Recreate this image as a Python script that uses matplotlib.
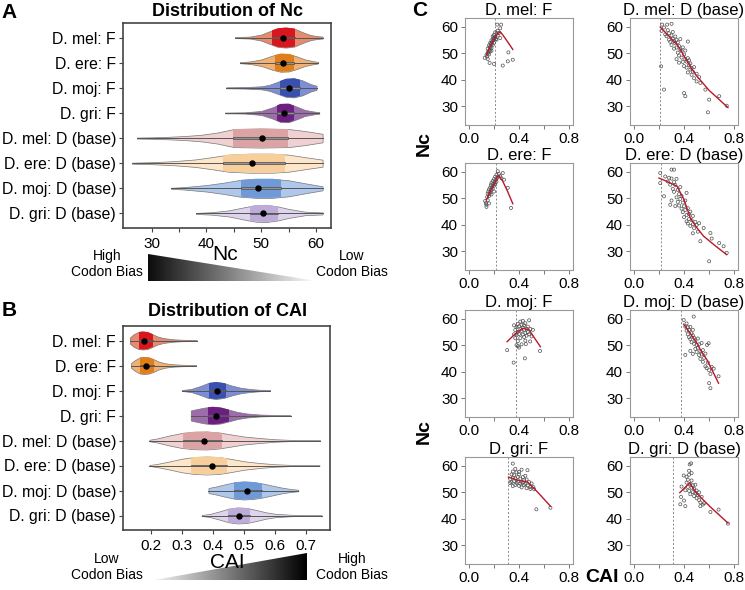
import numpy as np
import matplotlib
matplotlib.use("Agg")
import matplotlib.pyplot as plt
from matplotlib.patches import Rectangle, Polygon

plt.rcParams['font.family'] = ['Liberation Sans', 'DejaVu Sans']

W, H = 745, 590

groups = ["D. mel: F", "D. ere: F", "D. moj: F", "D. gri: F",
          "D. mel: D (base)", "D. ere: D (base)", "D. moj: D (base)", "D. gri: D (base)"]
outer_cols = ['#E68A70', '#F2B072', '#7E8ED6', '#9C6CAC',
              '#F0D0D0', '#FDE6C9', '#B0C7EC', '#DED5EC']
inner_cols = ['#D8161D', '#E07F1A', '#3A50B0', '#6C1F80',
              '#DBA3A3', '#F7CF9C', '#7099D8', '#BDACD8']

# --- Nc violins: outline read as (x, half width), plus quartiles ---
nc_xs = [
    [45.2, 48, 50, 51.5, 53, 54.5, 56, 57.5, 59, 60.5, 61.2],
    [46.1, 48, 50, 52, 53.5, 55, 56.5, 58, 59.5, 60.4],
    [43.6, 47, 50, 51.5, 53, 54.5, 56, 57.5, 59, 60.1],
    [43.4, 47, 50, 52, 53.5, 55, 56.5, 58, 59.5, 60.6],
    [27.3, 30, 33, 36, 39, 42, 45, 50, 55, 58, 61.2],
    [26.4, 30, 34, 38, 41, 44, 48, 52, 55, 58, 61.2],
    [33.5, 36, 40, 43, 46, 49, 52, 55, 58, 61.2],
    [38.1, 41, 44, 47, 49, 51, 53, 55, 58, 61.2],
]
nc_ws = [
    [0.02, 0.04, 0.12, 0.25, 0.37, 0.40, 0.36, 0.22, 0.10, 0.05, 0.04],
    [0.02, 0.05, 0.13, 0.28, 0.36, 0.35, 0.25, 0.13, 0.06, 0.03],
    [0.02, 0.03, 0.06, 0.12, 0.24, 0.36, 0.38, 0.30, 0.15, 0.08],
    [0.015, 0.025, 0.08, 0.22, 0.36, 0.37, 0.25, 0.12, 0.06, 0.03],
    [0.02, 0.03, 0.05, 0.08, 0.13, 0.22, 0.36, 0.38, 0.36, 0.28, 0.17],
    [0.02, 0.04, 0.08, 0.15, 0.24, 0.34, 0.38, 0.38, 0.34, 0.24, 0.14],
    [0.02, 0.05, 0.13, 0.22, 0.33, 0.38, 0.38, 0.32, 0.20, 0.08],
    [0.02, 0.05, 0.12, 0.25, 0.33, 0.34, 0.28, 0.18, 0.07, 0.04],
]
nc_q1 = [51.9, 52.5, 53.4, 52.8, 44.9, 43.1, 46.3, 48.0]
nc_med = [53.9, 53.9, 55.0, 54.1, 50.1, 48.4, 49.4, 50.4]
nc_q3 = [56.2, 55.9, 57.1, 55.9, 54.8, 54.3, 53.7, 53.0]

# --- CAI violins ---
cai_xs = [
    [0.133, 0.145, 0.16, 0.175, 0.19, 0.205, 0.22, 0.24, 0.27, 0.30, 0.348],
    [0.137, 0.15, 0.165, 0.18, 0.195, 0.21, 0.225, 0.245, 0.27, 0.30, 0.346],
    [0.30, 0.33, 0.36, 0.385, 0.41, 0.435, 0.46, 0.49, 0.52, 0.55, 0.584],
    [0.329, 0.35, 0.375, 0.40, 0.425, 0.45, 0.48, 0.51, 0.55, 0.60, 0.65],
    [0.196, 0.22, 0.26, 0.30, 0.34, 0.38, 0.42, 0.46, 0.50, 0.55, 0.60, 0.65, 0.745],
    [0.196, 0.22, 0.26, 0.30, 0.34, 0.38, 0.42, 0.46, 0.50, 0.55, 0.60, 0.65, 0.743],
    [0.386, 0.41, 0.44, 0.47, 0.50, 0.53, 0.56, 0.59, 0.62, 0.65, 0.675],
    [0.364, 0.39, 0.42, 0.45, 0.48, 0.51, 0.54, 0.57, 0.60, 0.65, 0.70, 0.75],
]
cai_ws = [
    [0.12, 0.25, 0.34, 0.36, 0.34, 0.26, 0.17, 0.10, 0.05, 0.03, 0.02],
    [0.10, 0.22, 0.32, 0.34, 0.32, 0.25, 0.16, 0.09, 0.05, 0.03, 0.02],
    [0.02, 0.06, 0.18, 0.30, 0.34, 0.30, 0.20, 0.11, 0.06, 0.03, 0.02],
    [0.20, 0.26, 0.32, 0.35, 0.32, 0.24, 0.14, 0.08, 0.04, 0.02, 0.01],
    [0.03, 0.08, 0.20, 0.30, 0.35, 0.36, 0.32, 0.24, 0.16, 0.10, 0.05, 0.025, 0.015],
    [0.02, 0.06, 0.16, 0.27, 0.34, 0.36, 0.34, 0.26, 0.17, 0.10, 0.05, 0.025, 0.015],
    [0.10, 0.16, 0.25, 0.33, 0.36, 0.34, 0.28, 0.20, 0.12, 0.06, 0.03],
    [0.02, 0.06, 0.16, 0.27, 0.32, 0.30, 0.22, 0.13, 0.07, 0.03, 0.015, 0.01],
]
cai_q1 = [0.164, 0.166, 0.389, 0.386, 0.303, 0.329, 0.468, 0.450]
cai_med = [0.180, 0.184, 0.412, 0.409, 0.372, 0.396, 0.511, 0.484]
cai_q3 = [0.206, 0.211, 0.442, 0.453, 0.428, 0.445, 0.557, 0.520]

# --- panel C: CAI vs Nc per gene ---
mel_f_pts = [(0.14, 49.5), (0.145, 48.8), (0.15, 50.5), (0.15, 51.8), (0.155, 50.2), (0.16, 51.0),
             (0.16, 53.0), (0.165, 52.4), (0.17, 52.2), (0.17, 54.0), (0.17, 50.8), (0.175, 53.6),
             (0.18, 53.5), (0.18, 55.0), (0.18, 52.0), (0.185, 54.2), (0.19, 54.8), (0.19, 56.5),
             (0.19, 53.2), (0.195, 55.8), (0.2, 55.5), (0.2, 57.0), (0.2, 54.0), (0.205, 56.2),
             (0.21, 56.0), (0.21, 58.0), (0.215, 55.4), (0.22, 55.2), (0.22, 57.5), (0.23, 56.8),
             (0.24, 57.8), (0.25, 59.5), (0.226, 60.9), (0.257, 60.9), (0.165, 46.4), (0.27, 45.4),
             (0.31, 47.0), (0.35, 47.6), (0.315, 50.4), (0.126, 48.3), (0.15, 47.9), (0.25, 55.8),
             (0.2, 46.0), (0.23, 58.6), (0.16, 49.6), (0.18, 51.0)]
mel_f_fit = [(0.14, 49.5), (0.17, 52.5), (0.2, 55.5), (0.225, 57.2), (0.25, 58.2),
             (0.27, 57.0), (0.3, 55.0), (0.35, 51.5)]

mel_d_pts = [(0.22, 58.5), (0.24, 59.8), (0.25, 57.2), (0.26, 56.5), (0.27, 58.8), (0.28, 55.2),
             (0.28, 57.6), (0.29, 54.4), (0.3, 56.8), (0.3, 53.2), (0.31, 55.6), (0.31, 58.1),
             (0.32, 54.6), (0.32, 51.8), (0.33, 56.4), (0.33, 53.8), (0.34, 52.2), (0.34, 55.1),
             (0.35, 50.3), (0.35, 54.2), (0.36, 52.8), (0.36, 49.2), (0.37, 51.5), (0.37, 55.4),
             (0.38, 48.4), (0.38, 50.9), (0.39, 46.8), (0.39, 52.3), (0.4, 49.6), (0.4, 45.2),
             (0.41, 47.9), (0.41, 51.1), (0.42, 44.6), (0.42, 46.9), (0.43, 48.2), (0.43, 42.8),
             (0.44, 45.6), (0.44, 47.4), (0.45, 43.9), (0.45, 46.2), (0.46, 41.9), (0.46, 44.5),
             (0.47, 43.1), (0.48, 40.6), (0.48, 44.8), (0.5, 42.3), (0.5, 39.4), (0.52, 41.0),
             (0.217, 45.1), (0.24, 36.3), (0.4, 35.0), (0.41, 33.8), (0.6, 32.5), (0.59, 27.7),
             (0.68, 33.8), (0.74, 30.2), (0.57, 36.3), (0.53, 38.8), (0.225, 60.9), (0.265, 60.9),
             (0.3, 61.2), (0.43, 54.5), (0.36, 46.5), (0.34, 47.8)]
mel_d_fit = [(0.21, 60.0), (0.3, 55.5), (0.35, 53.0), (0.4, 49.0), (0.45, 45.0),
             (0.5, 41.5), (0.6, 36.0), (0.75, 29.5)]

ere_f_pts = [(0.13, 49.0), (0.135, 48.2), (0.14, 47.6), (0.145, 50.5), (0.15, 49.3), (0.15, 51.8),
             (0.155, 52.6), (0.16, 50.9), (0.16, 53.4), (0.165, 51.7), (0.17, 54.1), (0.17, 52.3),
             (0.175, 55.0), (0.175, 53.2), (0.18, 51.5), (0.18, 55.8), (0.185, 54.3), (0.19, 56.6),
             (0.19, 53.7), (0.195, 55.4), (0.2, 57.3), (0.2, 54.8), (0.205, 56.1), (0.21, 58.2),
             (0.21, 55.3), (0.215, 57.0), (0.22, 56.3), (0.22, 58.9), (0.225, 57.7), (0.23, 60.3),
             (0.24, 59.2), (0.25, 58.4), (0.27, 59.6), (0.28, 57.1), (0.31, 54.0), (0.336, 46.4),
             (0.14, 46.8), (0.16, 48.1), (0.2, 52.6), (0.26, 57.6)]
ere_f_fit = [(0.14, 49.5), (0.18, 53.5), (0.21, 56.2), (0.236, 58.8), (0.27, 56.5),
             (0.31, 52.5), (0.35, 48.0)]

ere_d_pts = [(0.21, 55.8), (0.21, 59.6), (0.3, 60.9), (0.32, 60.9), (0.53, 33.8), (0.6, 26.2),
             (0.715, 31.9), (0.74, 29.4), (0.61, 36.9), (0.556, 38.8), (0.29, 47.6), (0.24, 50.8),
             (0.25, 58.3), (0.27, 56.4), (0.28, 57.8), (0.29, 55.2), (0.3, 57.5), (0.31, 53.6),
             (0.32, 56.2), (0.32, 52.5), (0.33, 55.1), (0.34, 57.4), (0.34, 50.4), (0.35, 53.2),
             (0.35, 48.7), (0.36, 51.6), (0.36, 47.3), (0.37, 49.8), (0.37, 54.3), (0.38, 46.1),
             (0.38, 50.9), (0.39, 44.8), (0.39, 48.4), (0.4, 47.0), (0.4, 42.9), (0.41, 45.6),
             (0.41, 49.2), (0.42, 43.7), (0.42, 41.3), (0.43, 46.3), (0.43, 40.5), (0.44, 44.1),
             (0.44, 42.2), (0.45, 39.6), (0.45, 45.0), (0.46, 41.8), (0.47, 40.2), (0.47, 43.4),
             (0.48, 38.7), (0.49, 41.1), (0.5, 39.9), (0.51, 37.4), (0.52, 40.6), (0.3, 49.2),
             (0.33, 47.1), (0.42, 52.1), (0.47, 36.8), (0.62, 34.8), (0.68, 33.1)]
ere_d_fit = [(0.2, 57.7), (0.26, 56.5), (0.344, 54.6), (0.4, 49.5), (0.45, 42.6),
             (0.5, 39.0), (0.556, 35.7), (0.65, 32.0), (0.74, 28.7)]

moj_f_pts = [(0.36, 54.2), (0.37, 55.8), (0.37, 52.7), (0.38, 56.9), (0.38, 53.9), (0.39, 58.1),
             (0.39, 55.1), (0.39, 51.6), (0.4, 57.2), (0.4, 54.3), (0.41, 56.1), (0.41, 59.0),
             (0.41, 52.8), (0.42, 55.5), (0.42, 57.8), (0.42, 50.4), (0.43, 54.1), (0.43, 56.8),
             (0.43, 59.3), (0.44, 55.9), (0.44, 53.2), (0.44, 57.6), (0.45, 54.7), (0.45, 58.4),
             (0.45, 51.8), (0.46, 56.3), (0.46, 53.7), (0.47, 57.1), (0.47, 55.0), (0.48, 59.5),
             (0.48, 54.2), (0.49, 56.2), (0.5, 53.4), (0.51, 55.9), (0.38, 50.1), (0.4, 49.2),
             (0.305, 48.2), (0.357, 43.5), (0.446, 45.1), (0.567, 47.9), (0.454, 50.5), (0.488, 51.5),
             (0.39, 49.7), (0.36, 57.6)]
moj_f_fit = [(0.305, 51.4), (0.35, 53.5), (0.39, 55.2), (0.43, 56.5), (0.48, 55.9),
             (0.52, 53.0), (0.57, 49.5)]

moj_d_pts = [(0.477, 60.9), (0.397, 59.6), (0.41, 46.4), (0.61, 33.8), (0.6, 35.7), (0.675, 38.3),
             (0.636, 41.2), (0.583, 50.2), (0.596, 50.8), (0.41, 57.1), (0.42, 55.6), (0.42, 58.3),
             (0.43, 54.2), (0.43, 56.9), (0.44, 53.1), (0.44, 55.8), (0.45, 57.0), (0.45, 52.4),
             (0.46, 54.6), (0.46, 51.2), (0.47, 53.8), (0.47, 55.9), (0.48, 50.6), (0.48, 52.9),
             (0.49, 48.7), (0.49, 51.8), (0.5, 50.2), (0.5, 47.5), (0.51, 52.6), (0.51, 49.1),
             (0.52, 46.3), (0.52, 50.4), (0.53, 47.8), (0.53, 44.9), (0.54, 46.6), (0.55, 43.8),
             (0.55, 48.2), (0.56, 45.3), (0.57, 42.1), (0.57, 46.9), (0.58, 41.4), (0.59, 43.5),
             (0.6, 40.6), (0.62, 41.9), (0.45, 47.9), (0.47, 46.8), (0.54, 50.9), (0.61, 39.2)]
moj_d_fit = [(0.397, 58.0), (0.45, 54.5), (0.503, 50.8), (0.54, 47.5), (0.583, 44.5),
             (0.63, 40.0), (0.675, 35.7)]

gri_f_pts = [(0.35, 60.9), (0.538, 43.6), (0.65, 44.2), (0.467, 58.4), (0.488, 52.0), (0.514, 52.0),
             (0.33, 55.1), (0.34, 56.8), (0.34, 53.9), (0.35, 55.6), (0.35, 57.9), (0.36, 54.2),
             (0.36, 56.5), (0.37, 52.8), (0.37, 55.3), (0.38, 57.6), (0.38, 53.6), (0.39, 55.9),
             (0.39, 54.1), (0.4, 52.5), (0.4, 56.8), (0.41, 53.3), (0.41, 55.2), (0.42, 54.0),
             (0.42, 51.9), (0.43, 53.7), (0.43, 55.8), (0.44, 52.8), (0.44, 54.6), (0.45, 53.2),
             (0.46, 51.6), (0.46, 54.9), (0.47, 52.6), (0.48, 53.9), (0.49, 51.3), (0.5, 53.4),
             (0.35, 52.4), (0.37, 58.9), (0.4, 57.8), (0.42, 58.6), (0.33, 53.5), (0.45, 56.3),
             (0.52, 51.2)]
gri_f_fit = [(0.315, 55.8), (0.39, 54.6), (0.467, 54.0), (0.546, 50.2), (0.65, 44.8)]

gri_d_pts = [(0.37, 45.5), (0.376, 48.3), (0.445, 60.6), (0.456, 61.0), (0.397, 56.4), (0.61, 42.6),
             (0.675, 43.5), (0.75, 38.2), (0.41, 50.8), (0.42, 53.7), (0.42, 55.9), (0.43, 52.1),
             (0.43, 54.8), (0.44, 50.6), (0.44, 56.7), (0.45, 53.2), (0.45, 49.3), (0.46, 51.8),
             (0.46, 54.5), (0.47, 50.1), (0.47, 52.7), (0.48, 48.6), (0.48, 51.4), (0.49, 49.9),
             (0.49, 52.9), (0.5, 47.8), (0.5, 50.7), (0.51, 48.9), (0.52, 47.1), (0.52, 50.0),
             (0.53, 46.2), (0.54, 48.3), (0.55, 45.4), (0.4, 46.9), (0.41, 44.8), (0.44, 58.2),
             (0.46, 57.3), (0.38, 52.2), (0.53, 44.8), (0.56, 45.9)]
gri_d_fit = [(0.366, 49.9), (0.445, 53.6), (0.49, 50.2), (0.55, 47.3), (0.61, 44.5), (0.75, 38.4)]

# CAI cut-off (dashed line) per species
cutoffs = [0.21, 0.215, 0.375, 0.315]


def px(x, y):
    return x / W, 1 - y / H


def ax_px(fig, x0, y0, x1, y1):
    return fig.add_axes([x0 / W, 1 - y1 / H, (x1 - x0) / W, (y1 - y0) / H])


def draw_violin(ax, pos, xs, ws, q1, med, q3, c_out, c_in):
    xs = np.array(xs)
    ws = np.array(ws)
    ax.fill_between(xs, pos - ws, pos + ws, facecolor=c_out, edgecolor='#777777', lw=0.5, zorder=2)
    band = ax.fill_between(xs, pos - ws, pos + ws, facecolor=c_in, lw=0, zorder=3)
    band.set_clip_path(Rectangle((q1, pos - 0.5), q3 - q1, 1.0, transform=ax.transData))
    ax.plot([xs[0], xs[-1]], [pos, pos], color='#555555', lw=0.7, zorder=4)
    ax.add_patch(Rectangle((q1, pos - 0.035), q3 - q1, 0.07, facecolor=(1, 1, 1, 0.35),
                           edgecolor='#555555', lw=0.6, zorder=4))
    ax.plot(med, pos, 'o', color='black', ms=3.6, zorder=5)


def style_violin_axes(ax):
    ax.set_yticks(range(1, 9))
    ax.set_yticklabels(groups)
    ax.set_ylim(8.58, 0.42)
    for s in ax.spines.values():
        s.set_color('#444444')
        s.set_linewidth(1.2)
    ax.tick_params(axis='both', length=3, width=0.8, color='#444444', labelsize=11)
    ax.tick_params(axis='y', labelsize=11.3, pad=2)
    ax.tick_params(axis='x', which='minor', length=3, width=0.8, color='#444444')


def triangle(fig, x0, y0, x1, y1, dark_left):
    tax = ax_px(fig, x0, y0, x1, y1)
    grad = np.linspace(0, 1, 256).reshape(1, -1)
    im = tax.imshow(grad, cmap='gray' if dark_left else 'gray_r', extent=[0, 1, 0, 1],
                    aspect='auto', vmin=-0.05, vmax=1.0)
    if dark_left:
        tri = Polygon([(0, 0), (0, 1), (1, 0)], transform=tax.transData)
    else:
        tri = Polygon([(0, 0), (1, 1), (1, 0)], transform=tax.transData)
    im.set_clip_path(tri)
    tax.set_xlim(0, 1)
    tax.set_ylim(0, 1)
    tax.axis('off')


fig = plt.figure(figsize=(W / 100, H / 100), dpi=100)

# ---------- A ----------
axA = ax_px(fig, 123, 23, 331, 228)
for i in range(8):
    draw_violin(axA, i + 1, nc_xs[i], nc_ws[i], nc_q1[i], nc_med[i], nc_q3[i],
                outer_cols[i], inner_cols[i])
axA.set_xlim(24.76, 62.74)
axA.set_xticks([30, 40, 50, 60])
axA.set_xticks([35, 45, 55], minor=True)
style_violin_axes(axA)
fig.text(*px(227, 12), "Distribution of Nc", fontsize=13, fontweight='bold', ha='center', va='center')
fig.text(*px(9, 12), "A", fontsize=15, fontweight='bold', ha='center', va='center')
fig.text(*px(225, 255), "Nc", fontsize=15, ha='center', va='center')
fig.text(*px(107, 264), "High\nCodon Bias", fontsize=10, ha='center', va='center', linespacing=1.1)
fig.text(*px(352, 264), "Low\nCodon Bias", fontsize=10, ha='center', va='center', linespacing=1.1)
triangle(fig, 148, 254, 317, 281, True)

# ---------- B ----------
axB = ax_px(fig, 123, 326, 330, 530)
for i in range(8):
    draw_violin(axB, i + 1, cai_xs[i], cai_ws[i], cai_q1[i], cai_med[i], cai_q3[i],
                outer_cols[i], inner_cols[i])
axB.set_xlim(0.111, 0.777)
axB.set_xticks([0.2, 0.3, 0.4, 0.5, 0.6, 0.7])
style_violin_axes(axB)
fig.text(*px(227, 312), "Distribution of CAI", fontsize=13, fontweight='bold', ha='center', va='center')
fig.text(*px(9, 311), "B", fontsize=15, fontweight='bold', ha='center', va='center')
fig.text(*px(227, 562), "CAI", fontsize=15, ha='center', va='center')
fig.text(*px(107, 567), "Low\nCodon Bias", fontsize=10, ha='center', va='center', linespacing=1.1)
fig.text(*px(352, 567), "High\nCodon Bias", fontsize=10, ha='center', va='center', linespacing=1.1)
triangle(fig, 154, 553, 307, 580, False)

# ---------- C ----------
panels = [
    ("D. mel: F", mel_f_pts, mel_f_fit, "D. mel: D (base)", mel_d_pts, mel_d_fit),
    ("D. ere: F", ere_f_pts, ere_f_fit, "D. ere: D (base)", ere_d_pts, ere_d_fit),
    ("D. moj: F", moj_f_pts, moj_f_fit, "D. moj: D (base)", moj_d_pts, moj_d_fit),
    ("D. gri: F", gri_f_pts, gri_f_fit, "D. gri: D (base)", gri_d_pts, gri_d_fit),
]
row_tops = [18, 163, 310, 457]
col_lefts = [465, 630]

for r, row in enumerate(panels):
    for c in range(2):
        title, pts, fit = row[3 * c], row[3 * c + 1], row[3 * c + 2]
        ax = ax_px(fig, col_lefts[c], row_tops[r], col_lefts[c] + 108, row_tops[r] + 107)
        ax.axvline(cutoffs[r], color='#888888', lw=0.7, ls=(0, (2, 2)), zorder=1)
        ax.scatter([p[0] for p in pts], [p[1] for p in pts], s=5, facecolors='none',
                   edgecolors='#505050', linewidths=0.5, zorder=2)
        ax.plot([p[0] for p in fit], [p[1] for p in fit], color='#B8192C', lw=1.0, zorder=3)
        ax.set_xlim(-0.031, 0.83)
        ax.set_ylim(22.9, 63.4)
        ax.set_xticks([0, 0.2, 0.4, 0.6, 0.8])
        ax.set_xticklabels(['0.0', '', '0.4', '', '0.8'])
        ax.set_yticks([30, 40, 50, 60])
        for s in ax.spines.values():
            s.set_color('#999999')
            s.set_linewidth(0.8)
        ax.tick_params(length=3, width=0.7, color='#777777', labelsize=11, pad=2)
        ax.set_title(title, fontsize=12, pad=2)

fig.text(*px(420, 10), "C", fontsize=15, fontweight='bold', ha='center', va='center')
fig.text(*px(424, 143), "Nc", fontsize=14, fontweight='bold', ha='center', va='center', rotation=90)
fig.text(*px(424, 432), "Nc", fontsize=14, fontweight='bold', ha='center', va='center', rotation=90)
fig.text(*px(602, 578), "CAI", fontsize=14, fontweight='bold', ha='center', va='center')

fig.savefig("out.png", dpi=100)
